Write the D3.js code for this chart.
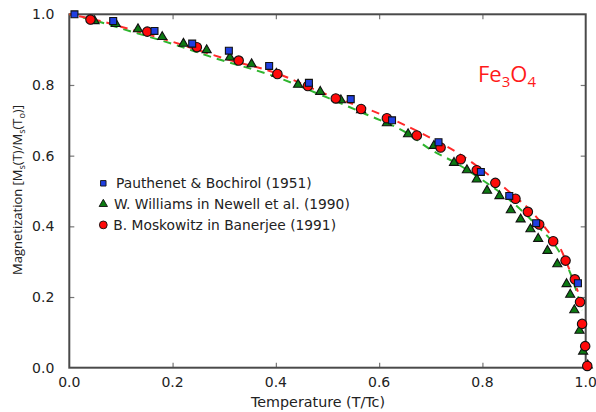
<!DOCTYPE html>
<html>
<head>
<meta charset="utf-8">
<script src="https://cdn.jsdelivr.net/npm/d3@7"></script>
<style>
  body { margin: 0; background: #fff; }
  svg { display: block; }
</style>
</head>
<body>
<div class="chart"></div>
<script>
// Pauthenet & Bochirol (1951) - blue squares
var pauthT = [0.010, 0.085, 0.165, 0.238, 0.309, 0.387, 0.464, 0.545, 0.625, 0.715, 0.797, 0.852, 0.904, 0.985];
var pauthM = [1.000, 0.981, 0.953, 0.917, 0.897, 0.854, 0.806, 0.760, 0.700, 0.638, 0.554, 0.486, 0.409, 0.239];

// W. Williams in Newell et al. (1990) - green triangles
var willT = [0.049, 0.090, 0.133, 0.180, 0.221, 0.266, 0.311, 0.353, 0.401, 0.443, 0.486, 0.526, 0.565, 0.615, 0.656, 0.706,
             0.745, 0.770, 0.789, 0.809, 0.833, 0.855, 0.874, 0.893, 0.908, 0.926, 0.945, 0.963, 0.970, 0.978, 0.988, 0.995, 1.004];
var willM = [0.981, 0.973, 0.958, 0.936, 0.917, 0.899, 0.878, 0.859, 0.832, 0.801, 0.781, 0.757, 0.729, 0.692, 0.661, 0.628,
             0.580, 0.559, 0.533, 0.501, 0.486, 0.446, 0.420, 0.392, 0.365, 0.331, 0.293, 0.237, 0.207, 0.163, 0.105, 0.046, 0.007];

// B. Moskowitz in Banerjee (1991) - red circles
var moskT = [0.041, 0.151, 0.247, 0.328, 0.403, 0.462, 0.516, 0.565, 0.615, 0.673, 0.719, 0.758, 0.789, 0.825, 0.864, 0.888,
             0.910, 0.937, 0.961, 0.979, 0.989, 0.993, 0.999, 1.003];
var moskM = [0.985, 0.951, 0.907, 0.869, 0.831, 0.797, 0.762, 0.732, 0.706, 0.657, 0.623, 0.590, 0.559, 0.523, 0.478, 0.441,
             0.405, 0.358, 0.303, 0.250, 0.186, 0.124, 0.061, 0.005];

// dashed curves
var redLineT = [0.00, 0.05, 0.10, 0.20, 0.30, 0.40, 0.50, 0.60, 0.70, 0.75, 0.80, 0.85, 0.90, 0.93, 0.95, 0.97, 0.985];
var redLineM = [1.000, 0.985, 0.965, 0.922, 0.875, 0.834, 0.772, 0.719, 0.650, 0.610, 0.559, 0.500, 0.434, 0.380, 0.340, 0.272, 0.215];
var greenLineT = [0.00, 0.05, 0.10, 0.20, 0.28, 0.40, 0.50, 0.57, 0.65, 0.70, 0.75, 0.80, 0.85, 0.90, 0.95, 0.97, 0.993];
var greenLineM = [1.000, 0.982, 0.960, 0.916, 0.877, 0.823, 0.764, 0.720, 0.667, 0.617, 0.578, 0.531, 0.478, 0.410, 0.325, 0.268, 0.163];

var xTicks = [0, 0.2, 0.4, 0.6, 0.8, 1.0];
var yTicks = [0, 0.2, 0.4, 0.6, 0.8, 1.0];

var legendNames = ["Pauthenet & Bochirol (1951)", "W. Williams in Newell et al. (1990)", "B. Moskowitz in Banerjee (1991)"];
var legendShapes = ["square", "triangle", "circle"];

var W = 596, H = 412;
var margin = { top: 14.3, right: 10.3, bottom: 44.3, left: 69.3 };
var width = W - margin.left - margin.right;
var height = H - margin.top - margin.bottom;
var font = "'Comic Sans MS', 'DejaVu Sans', sans-serif";

var svg = d3.select(".chart")
  .append("svg")
    .attr("width", W)
    .attr("height", H)
  .append("g")
    .attr("transform", "translate(" + margin.left + "," + margin.top + ")");

var x = d3.scaleLinear().domain([0, 1]).range([0, width]);
var y = d3.scaleLinear().domain([0, 1]).range([height, 0]);

var fill = { square: "#1f3fe0", triangle: "#0c7a12", circle: "#ff0a0a" };
var symType = { square: d3.symbolSquare, triangle: d3.symbolTriangle, circle: d3.symbolCircle };
var symSize = { square: 48, triangle: 36, circle: 70 };

// inward ticks on all four sides
function tickAxis(gen, transform) {
  var g = svg.append("g").attr("transform", transform || null)
    .call(gen);
  g.select(".domain").remove();
  g.selectAll("line").attr("stroke", "#777").attr("stroke-width", 1.2);
  return g;
}
var inner = xTicks.slice(1, -1);
tickAxis(d3.axisBottom(x).tickValues(inner).tickSize(-5).tickFormat(""), "translate(0," + height + ")");
tickAxis(d3.axisTop(x).tickValues(inner).tickSize(-5).tickFormat(""));
tickAxis(d3.axisLeft(y).tickValues(yTicks.slice(1, -1)).tickSize(-5).tickFormat(""));
tickAxis(d3.axisRight(y).tickValues(yTicks.slice(1, -1)).tickSize(-5).tickFormat(""), "translate(" + width + ",0)");

// tick labels
svg.append("g").selectAll("text")
  .data(xTicks)
  .enter().append("text")
    .attr("x", function(d) { return x(d); })
    .attr("y", height + 19)
    .attr("text-anchor", "middle")
    .attr("font-family", font)
    .attr("font-size", 14)
    .attr("fill", "#222")
    .text(function(d) { return d.toFixed(1); });

svg.append("g").selectAll("text")
  .data(yTicks)
  .enter().append("text")
    .attr("x", -15)
    .attr("y", function(d) { return y(d); })
    .attr("dy", "0.35em")
    .attr("text-anchor", "end")
    .attr("font-family", font)
    .attr("font-size", 14)
    .attr("fill", "#222")
    .text(function(d) { return d.toFixed(1); });

// frame
svg.append("rect")
  .attr("width", width)
  .attr("height", height)
  .attr("fill", "none")
  .attr("stroke", "#4a4a4a")
  .attr("stroke-width", 2);

// dashed curves
var line = d3.line()
  .x(function(d) { return x(d[0]); })
  .y(function(d) { return y(d[1]); })
  .curve(d3.curveMonotoneX);

svg.append("path")
  .datum(d3.zip(greenLineT, greenLineM))
  .attr("d", line)
  .attr("fill", "none")
  .attr("stroke", "#2fb52f")
  .attr("stroke-width", 2)
  .attr("stroke-dasharray", "8,6");

svg.append("path")
  .datum(d3.zip(redLineT, redLineM))
  .attr("d", line)
  .attr("fill", "none")
  .attr("stroke", "#ff2a2a")
  .attr("stroke-width", 2)
  .attr("stroke-dasharray", "8,6")
  .attr("stroke-dashoffset", 4);

// markers
function drawSeries(ts, ms, shape) {
  svg.append("g").selectAll("path")
    .data(d3.zip(ts, ms))
    .enter().append("path")
      .attr("transform", function(d) { return "translate(" + x(d[0]) + "," + y(d[1]) + ")"; })
      .attr("d", d3.symbol().type(symType[shape]).size(symSize[shape]))
      .attr("fill", fill[shape])
      .attr("stroke", "#111")
      .attr("stroke-width", 1.1);
}
drawSeries(willT, willM, "triangle");
drawSeries(moskT, moskM, "circle");
drawSeries(pauthT, pauthM, "square");

// legend
var legend = svg.append("g")
  .selectAll("g")
  .data(legendNames)
  .enter().append("g")
    .attr("transform", function(d, i) { return "translate(" + (103.3 - margin.left) + "," + (183.3 + i * 20.8 - margin.top) + ")"; });

legend.append("path")
  .attr("d", function(d, i) {
    var s = legendShapes[i];
    return d3.symbol().type(symType[s]).size(s == "circle" ? 48 : 30)();
  })
  .attr("fill", function(d, i) { return fill[legendShapes[i]]; })
  .attr("stroke", "#111")
  .attr("stroke-width", 0.9);

legend.append("text")
  .attr("x", function(d, i) { return [12.7, 10.7, 10][i]; })
  .attr("dy", "0.36em")
  .attr("font-family", font)
  .attr("font-size", 13.8)
  .attr("fill", "#222")
  .text(function(d) { return d; });

// Fe3O4 label
var fe = svg.append("text")
  .attr("x", 478 - margin.left)
  .attr("y", 82 - margin.top)
  .attr("font-family", "'Open Sans', 'Noto Sans', sans-serif")
  .attr("font-size", 22)
  .attr("fill", "#ff1a1a");
fe.append("tspan").text("Fe");
fe.append("tspan").attr("font-size", 15).attr("dy", 5).text("3");
fe.append("tspan").attr("dy", -5).text("O");
fe.append("tspan").attr("font-size", 15).attr("dy", 5).text("4");

// axis titles
svg.append("text")
  .attr("x", 318 - margin.left)
  .attr("y", 407 - margin.top)
  .attr("text-anchor", "middle")
  .attr("font-family", font)
  .attr("font-size", 14.3)
  .attr("fill", "#222")
  .text("Temperature (T/Tc)");

var yt = svg.append("text")
  .attr("transform", "translate(" + (22 - margin.left) + "," + (190 - margin.top) + ") rotate(-90)")
  .attr("text-anchor", "middle")
  .attr("font-family", "'Open Sans', sans-serif")
  .attr("font-size", 13)
  .attr("fill", "#222");
yt.append("tspan").text("Magnetization [M");
yt.append("tspan").attr("font-size", 9).attr("dy", 3).text("s");
yt.append("tspan").attr("dy", -3).text("(T)/M");
yt.append("tspan").attr("font-size", 9).attr("dy", 3).text("s");
yt.append("tspan").attr("dy", -3).text("(T");
yt.append("tspan").attr("font-size", 9).attr("dy", 3).text("o");
yt.append("tspan").attr("dy", -3).text(")]");
</script>
</body>
</html>
